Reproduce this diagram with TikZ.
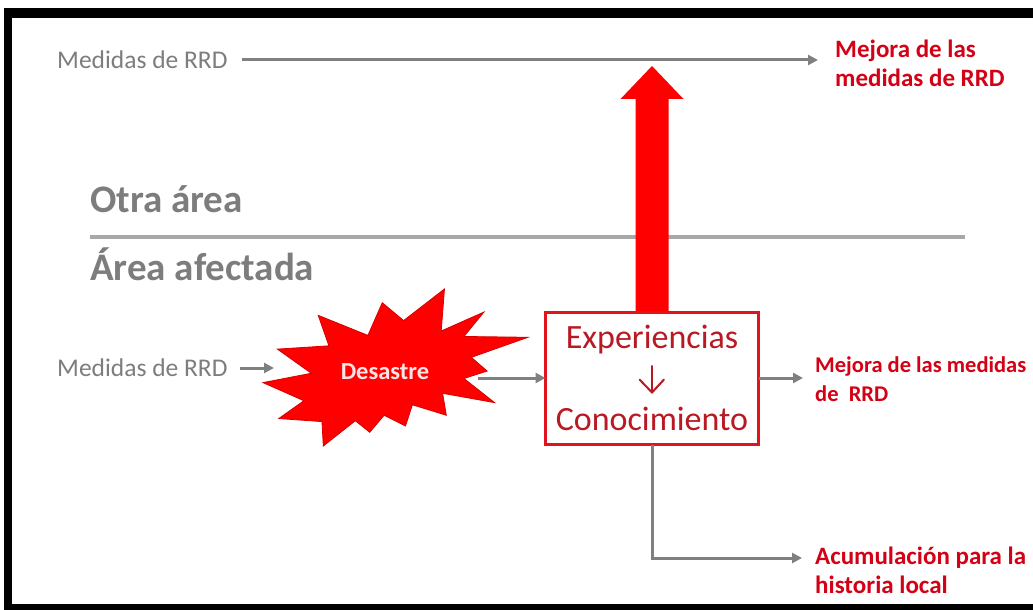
\documentclass[tikz,border=0pt]{standalone}
\usepackage{fontspec}
\setmainfont{Carlito}
\usetikzlibrary{arrows.meta}
\definecolor{txtgray}{RGB}{125,125,125}
\definecolor{arrowgray}{RGB}{128,128,128}
\definecolor{divgray}{RGB}{168,168,168}
\definecolor{redtext}{RGB}{212,0,22}
\definecolor{boxtext}{RGB}{185,25,35}
\definecolor{boxred}{RGB}{225,20,30}
\definecolor{bigred}{RGB}{255,0,0}
\definecolor{burstedge}{RGB}{215,0,0}
\definecolor{bursttext}{RGB}{252,228,228}
\tikzset{
  garrow/.style={draw=arrowgray, line width=3bp, -{Triangle[length=10bp,width=10bp]}},
  graytxt/.style={text=txtgray, inner sep=0pt, font=\fontsize{25.5bp}{30bp}\selectfont},
  areatxt/.style={text=txtgray, inner sep=0pt, font=\bfseries\fontsize{39bp}{44bp}\selectfont},
  redtxt/.style={text=redtext, inner sep=0pt, align=left, font=\bfseries\fontsize{25bp}{29bp}\selectfont},
  boxtxt/.style={text=boxtext, inner sep=0pt, font=\fontsize{34bp}{40bp}\selectfont},
  kbox/.style={draw=boxred, line width=3bp, minimum width=213bp, minimum height=132bp, inner sep=0pt, outer sep=0pt},
  kline/.style={draw=boxtext, line width=2bp, line cap=round, line join=round},
}
\begin{document}%
\begin{tikzpicture}[x=1bp,y=-1bp]
\useasboundingbox (0,0) rectangle (1033,610);
\fill[white] (-20,-20) rectangle (1060,630);
% frame
\fill[black] (4,8) rectangle (1060,18);
\fill[black] (4,8) rectangle (12,630);
\fill[black] (4,604) rectangle (1060,630);

% top row
\node[graytxt, anchor=west] (m1) at (57,60) {Medidas de RRD};
\node[redtxt, anchor=north west] (r1) at (835,39.5) {Mejora de las\\medidas de RRD};
\draw[garrow] ([xshift=14bp]m1.east) -- ([xshift=-17bp]m1.east -| r1.west);

% area labels and divider
\node[areatxt, anchor=base west] (otra) at (90,213) {Otra área};
\coordinate (dl) at (90,237);
\coordinate (dr) at (965,237);
\draw[divgray, line width=4bp] (dl) -- (dr);
\node[areatxt, anchor=base west] (afect) at (90,281) {Área afectada};

% knowledge box
\node[kbox] (box) at (652,378.5) {};

% big red arrow
\fill[bigred] ([shift={(-16.5,0)}]box.north) -- ([shift={(-16.5,-213.5)}]box.north)
  -- ([shift={(-31.5,-213.5)}]box.north) -- ([shift={(0,-246.5)}]box.north)
  -- ([shift={(31.5,-213.5)}]box.north) -- ([shift={(16.5,-213.5)}]box.north)
  -- ([shift={(16.5,0)}]box.north) -- cycle;
\node[kbox] at (box) {};

\node[boxtxt, anchor=base] (exp) at (652,348) {Experiencias};
\node[boxtxt, anchor=base] (con) at (652,430.5) {Conocimiento};
\coordinate (ka) at (652,366);
\coordinate (kb) at (652,392.5);
\draw[kline] (ka) -- (kb);
\draw[kline] ([shift={(-12.5,-13)}]kb) -- (kb) -- ([shift={(12,-13)}]kb);

% disaster burst
\begin{scope}[shift={(263,289)}, x=2.65bp, y=-1.57bp]
\filldraw[fill=bigred, draw=burstedge, line width=0.8bp, line join=miter]
 (53.06,20.10) -- (68.47,0) -- (67.25,26.75) -- (83.37,14.69) -- (75.83,30.24)
 -- (100,30.76) -- (78.63,43.53) -- (84.58,52.27) -- (75.83,56.99) -- (87.39,72.37)
 -- (67.78,66.44) -- (69.18,80.42) -- (56.39,73.77) -- (53.76,87.23) -- (45.70,80.42)
 -- (40.28,91.26) -- (34.85,83.91) -- (22.76,100) -- (22.25,84.44) -- (5.95,82.52)
 -- (15.42,71.16) -- (0,59.62) -- (18.22,53.67) -- (5.43,38.29) -- (24.87,36.19)
 -- (20.84,16.78) -- (39.58,29.55) -- (45.01,8.74) -- cycle;
\end{scope}
\node[text=bursttext, inner sep=0pt, font=\bfseries\fontsize{24.5bp}{28bp}\selectfont] (des) at (385,372) {Desastre};

% lower row
\node[graytxt, anchor=west] (m2) at (57,368) {Medidas de RRD};
\coordinate (din) at (274,368);
\draw[garrow] ([xshift=12bp]m2.east) -- (din);
\coordinate (dout) at (478,378);
\draw[garrow] (dout) -- (dout -| box.west);

\node[redtxt, anchor=north west, font=\bfseries\fontsize{22.5bp}{29bp}\selectfont] (r2) at (815,357) {Mejora de las medidas\\de\ \ RRD};
\draw[garrow] (box.east |- dout) -- ([xshift=-12bp]dout -| r2.west);

\node[redtxt, anchor=north west] (r3) at (815,547) {Acumulación para la\\historia local};
\coordinate (c3) at (802,558);
\draw[garrow] (box.south) |- (c3);
\end{tikzpicture}%
\end{document}
